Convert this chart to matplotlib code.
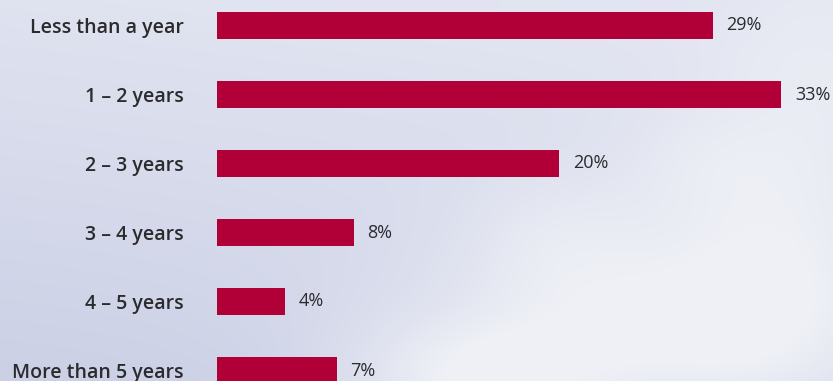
import numpy as np
import matplotlib.pyplot as plt

categories = ["Less than a year", "1 – 2 years", "2 – 3 years",
              "3 – 4 years", "4 – 5 years", "More than 5 years"]
shares = [29, 33, 20, 8, 4, 7]
labels = ["29%", "33%", "20%", "8%", "4%", "7%"]

bar_color = "#b10037"
text_color = "#2b2b2e"

W, H = 833, 381
fig = plt.figure(figsize=(W / 100, H / 100), dpi=100)

# soft sky backdrop: bluish gradient with a few pale cloud patches
yy, xx = np.mgrid[0:H, 0:W].astype(float)
top = np.array([0.885, 0.898, 0.945])
low = np.array([0.795, 0.815, 0.900])
t = np.clip((yy / H) * 0.9 + (1 - xx / W) * 0.25 - 0.15, 0, 1)[..., None]
sky = top * (1 - t) + low * t
cloud = np.zeros((H, W))
for cx, cy, sx, sy, a in [(620, 330, 160, 70, 0.85), (780, 240, 90, 120, 0.75),
                          (560, 230, 70, 50, 0.45), (470, 380, 90, 40, 0.65),
                          (820, 60, 60, 80, 0.35), (700, 160, 60, 40, 0.3)]:
    cloud += a * np.exp(-(((xx - cx) / sx) ** 2 + ((yy - cy) / sy) ** 2) / 2)
cloud = np.clip(cloud, 0, 1)[..., None]
white = np.array([0.935, 0.942, 0.965])
sky = sky * (1 - cloud) + white * cloud

bg = fig.add_axes([0, 0, 1, 1])
bg.imshow(sky, aspect="auto", extent=(0, 1, 0, 1))
bg.axis("off")

x0 = 217 / W
ax = fig.add_axes([x0, 0, 1 - x0, 1])
ax.patch.set_alpha(0)
y = np.arange(len(categories))
ax.barh(y, shares, height=0.40, color=bar_color)
ax.set_xlim(0, (W - 217) / 17.1)
ax.set_ylim((H - 25.5) / 69, -25.5 / 69)

ax.set_yticks(y)
ax.set_yticklabels(categories, fontsize=14, fontweight="semibold",
                   color=text_color, family="Open Sans")
ax.tick_params(axis="y", length=0, pad=24)
ax.set_xticks([])
for s in ax.spines.values():
    s.set_visible(False)

for yi, v, lab in zip(y, shares, labels):
    ax.text(v + 0.8, yi, lab, va="center", ha="left", fontsize=13,
            color=text_color, family="Open Sans")

fig.savefig("out.png", dpi=100)
